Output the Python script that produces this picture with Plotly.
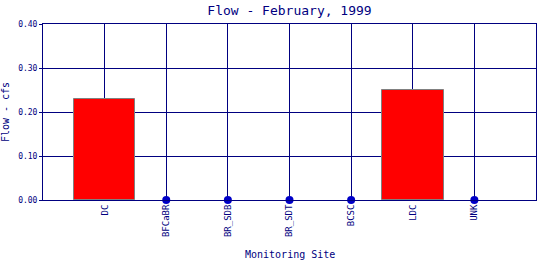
import plotly.graph_objects as go

sites = ["DC", "BFCaBR", "BR_SDB", "BR_SDT", "BCSC", "LDC", "UNK"]
flow = [0.23, 0.0, 0.0, 0.0, 0.0, 0.25, 0.0]
y_ticks = [0.0, 0.1, 0.2, 0.3, 0.4]
y_tick_text = ["0.00", "0.10", "0.20", "0.30", "0.40"]

navy = "#000080"
font_family = "DejaVu Sans Mono"

zero_sites = [s for s, v in zip(sites, flow) if v == 0]
zero_vals = [v for v in flow if v == 0]
outline_w = [1 if v > 0 else 0 for v in flow]

fig = go.Figure()
fig.add_trace(go.Bar(
    x=sites, y=flow, width=1.0,
    marker=dict(color="#ff0000", line=dict(color="#808080", width=outline_w)),
    hoverinfo="x+y", showlegend=False,
))
fig.add_trace(go.Scatter(
    x=zero_sites, y=zero_vals, mode="markers",
    marker=dict(color="#0000c8", size=8),
    showlegend=False, cliponaxis=False,
))

fig.update_layout(
    width=540, height=260,
    margin=dict(l=43, r=4, t=24, b=60, autoexpand=False),
    paper_bgcolor="white", plot_bgcolor="white",
    title=dict(text="Flow - February, 1999", x=(43 + 536) / 2 / 540, xanchor="center",
               y=1 - 10 / 260, yanchor="middle",
               font=dict(family=font_family, size=13, color=navy)),
    font=dict(family=font_family, color=navy),
    bargap=0,
    annotations=[dict(
        text="Monitoring Site", xref="paper", yref="paper", x=0.5, y=(200 - 254) / 176,
        xanchor="center", yanchor="middle", showarrow=False,
        font=dict(family=font_family, size=10, color=navy),
    )],
)
fig.update_xaxes(
    type="category", categoryorder="array", categoryarray=sites,
    range=[-1, 7], automargin=False,
    showgrid=True, gridcolor=navy, gridwidth=1,
    showline=True, linecolor=navy, linewidth=1, mirror=True,
    tickangle=-90, tickfont=dict(family=font_family, size=9, color=navy),
    ticks="",
    zeroline=False,
)
fig.update_yaxes(
    range=[0, 0.4], tickvals=y_ticks, ticktext=y_tick_text, automargin=False,
    showgrid=True, gridcolor=navy, gridwidth=1,
    showline=True, linecolor=navy, linewidth=1, mirror=True,
    tickfont=dict(family=font_family, size=8, color=navy),
    ticks="outside", ticklen=3, tickcolor=navy,
    title=dict(text="Flow - cfs", font=dict(family=font_family, size=10, color=navy), standoff=8),
    zeroline=False,
)

fig.write_html("out.html")
